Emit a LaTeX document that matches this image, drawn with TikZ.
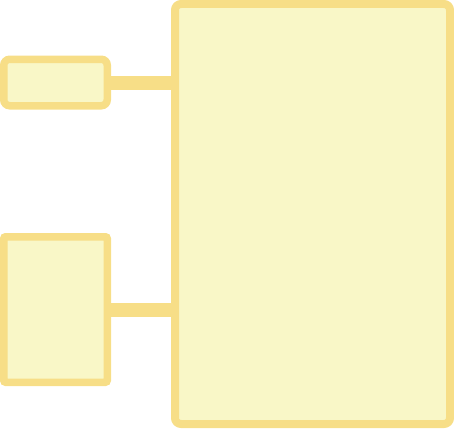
\documentclass[tikz,border=0pt]{standalone}
\begin{document}
\begin{tikzpicture}[x=1pt,y=-1pt,
  box/.style={draw=edgecol,fill=fillcol,line width=7.5pt,rounded corners=6pt,inner sep=0pt,anchor=center},
  conn/.style={draw=edgecol,line width=14pt}]
\definecolor{edgecol}{HTML}{F7DE87}
\definecolor{fillcol}{HTML}{F9F7C7}
\useasboundingbox (0,0) rectangle (454,428);
\node[box,line width=8pt,minimum width=275pt,minimum height=420pt] (big) at (312.5,214) {};
\node[box,minimum width=103.5pt,minimum height=46.5pt] (top) at (55.5,82.5) {};
\node[box,rounded corners=2pt,minimum width=103.5pt,minimum height=145.5pt] (bot) at (55.5,309.5) {};
\draw[conn] (top.east) -- (top.east -| big.west);
\draw[conn] (bot.east) -- (bot.east -| big.west);
\end{tikzpicture}
\end{document}
